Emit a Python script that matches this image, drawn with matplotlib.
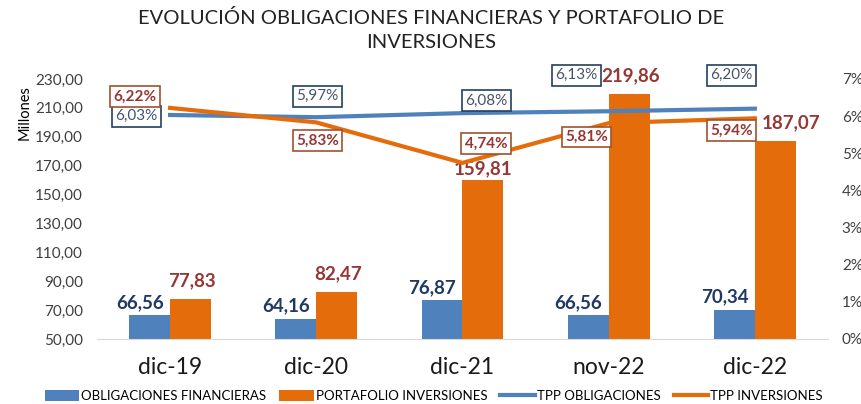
#!/usr/bin/env python3

import numpy as np
import matplotlib
matplotlib.use("Agg")
import matplotlib.pyplot as plt

categories = ["dic-19", "dic-20", "dic-21", "nov-22", "dic-22"]
obligaciones = [66.56, 64.16, 76.87, 66.56, 70.34]
portafolio = [77.83, 82.47, 159.81, 219.86, 187.07]
tpp_obligaciones = [6.03, 5.97, 6.08, 6.13, 6.20]
tpp_inversiones = [6.22, 5.83, 4.74, 5.81, 5.94]

# label offsets (points) for the percentage boxes and bar values
off_oblig = [(-24, -1), (1, 15), (17, 9), (-23, 26), (-17, 24)]
off_inv = [(-25, 8), (1, -13), (17, 14), (-16, -10), (-17, -9)]
off_bar_inv = [(1, 7), (1, 7), (0, 2), (1, 7), (11, 7)]


def fmt(v, dec=2):
    return f"{v:,.{dec}f}".replace(",", "X").replace(".", ",").replace("X", ".")


def main():
    plt.rcParams["font.family"] = ["Lato", "DejaVu Sans"]

    blue = "#4F81BD"
    orange = "#E46C0A"
    dark_blue = "#1F3864"
    dark_red = "#953735"

    fig = plt.figure(figsize=(8.62, 4.04), dpi=100)
    ax = fig.add_axes([0.1125, 0.161, 0.848, 0.6436])
    x = np.arange(len(categories))
    w = 0.28

    b1 = ax.bar(x - w / 2, [v - 50 for v in obligaciones], w, bottom=50, color=blue,
                label="OBLIGACIONES FINANCIERAS")
    b2 = ax.bar(x + w / 2, [v - 50 for v in portafolio], w, bottom=50, color=orange,
                label="PORTAFOLIO INVERSIONES")
    ax.set_ylim(50, 230)
    ax.set_xlim(-0.5, 4.5)
    ax.set_yticks(np.arange(50, 231, 20))
    ax.set_yticklabels([fmt(v) for v in np.arange(50, 231, 20)], fontsize=11, color="#404040")
    ax.set_xticks(x)
    ax.set_xticklabels(categories, fontsize=16.5, color="#1a1a1a")
    ax.tick_params(length=0)
    ax.tick_params(axis="x", pad=13)
    ax.tick_params(axis="y", pad=10)
    for s in ["top", "right", "left"]:
        ax.spines[s].set_visible(False)
    ax.spines["bottom"].set_color("#D9D9D9")
    ax.set_ylabel("Millones", fontsize=10.5)
    ax.yaxis.set_label_coords(-0.09, 0.87)

    for i, v in enumerate(obligaciones):
        ax.annotate(fmt(v), (x[i] - w / 2, v), xytext=(-7, 3), textcoords="offset points",
                    ha="center", va="bottom", fontsize=13.5, fontweight="bold", color=dark_blue)
    for i, v in enumerate(portafolio):
        ax.annotate(fmt(v), (x[i] + w / 2, v), xytext=off_bar_inv[i], textcoords="offset points",
                    ha="center", va="bottom", fontsize=13.5, fontweight="bold", color=dark_red)

    ax2 = ax.twinx()
    l1, = ax2.plot(x, tpp_obligaciones, color=blue, lw=3, label="TPP OBLIGACIONES")
    l2, = ax2.plot(x, tpp_inversiones, color=orange, lw=3, label="TPP INVERSIONES")
    ax2.set_ylim(0, 7)
    ax2.set_yticks(range(0, 8))
    ax2.set_yticklabels([f"{v}%" for v in range(0, 8)], fontsize=11, color="#404040")
    ax2.tick_params(length=0, pad=10)
    for s in ["top", "right", "left", "bottom"]:
        ax2.spines[s].set_visible(False)

    for i, v in enumerate(tpp_obligaciones):
        ax2.annotate(fmt(v) + "%", (x[i], v), xytext=off_oblig[i], textcoords="offset points",
                     ha="center", va="center", fontsize=11, color="#44546A",
                     bbox=dict(boxstyle="square,pad=0.22", fc="white", ec="#243F60", lw=1.2))
    for i, v in enumerate(tpp_inversiones):
        ax2.annotate(fmt(v) + "%", (x[i], v), xytext=off_inv[i], textcoords="offset points",
                     ha="center", va="center", fontsize=11, fontweight="bold", color=dark_red,
                     bbox=dict(boxstyle="square,pad=0.22", fc="white", ec="#A0522D", lw=1.2))

    fig.text(0.5, 0.978, "EVOLUCIÓN OBLIGACIONES FINANCIERAS Y PORTAFOLIO DE\nINVERSIONES",
             ha="center", va="top", fontsize=14.5, color="#222222", linespacing=1.5)

    fig.legend(handles=[b1, b2, l1, l2], loc="center", bbox_to_anchor=(0.503, 0.02),
               ncol=4, frameon=False, fontsize=9.5, handlelength=2.6, columnspacing=1.0,
               handletextpad=0.15, handleheight=0.9)

    fig.savefig("out.png", dpi=100)


if __name__ == "__main__":
    main()
